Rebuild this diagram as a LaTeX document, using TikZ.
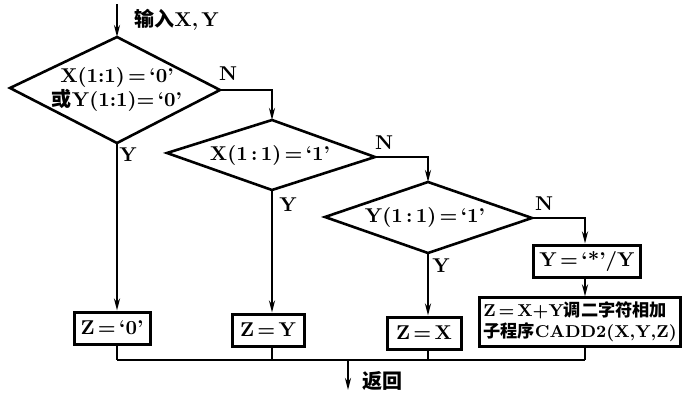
\documentclass[tikz,border=0pt]{standalone}
\usepackage{fontspec}
\newfontfamily\cjk{Noto Sans CJK SC}
\usetikzlibrary{arrows.meta}
\tikzset{
  decline/.style={draw,line width=1.3pt,line join=miter},
  dectext/.style={font=\bfseries,align=center,inner sep=1pt},
  proc/.style={draw,line width=1.5pt,inner sep=3pt,font=\bfseries,align=left},
  lab/.style={font=\bfseries,inner sep=1pt},
  flow/.style={line width=1.1pt},
  arr/.style={flow,-{Stealth[length=6pt,width=3pt]}}
}
\begin{document}
\begin{tikzpicture}[x=0.5pt,y=-0.5pt]
\useasboundingbox (0,0) rectangle (684,396);
% decision 1
\coordinate (d1w) at (10,88);
\coordinate (d1n) at (117,37);
\coordinate (d1e) at (220,90);
\coordinate (d1s) at (117,143);
\draw[decline] (d1w) -- (d1n) -- (d1e) -- (d1s) -- cycle;
\node[dectext] (d1) at (117,89) {X(1:1)\,=\,`0'\\{\cjk 或}Y(1:1)=\,`0'};
% decision 2
\coordinate (d2w) at (167,153);
\coordinate (d2n) at (272,120);
\coordinate (d2e) at (375,157);
\coordinate (d2s) at (272,190);
\draw[decline] (d2w) -- (d2n) -- (d2e) -- (d2s) -- cycle;
\node[dectext] (d2) at (270,155) {X(1\,:\,1)\,=\,`1'};
% decision 3
\coordinate (d3w) at (325,217);
\coordinate (d3n) at (428,182);
\coordinate (d3e) at (532,218);
\coordinate (d3s) at (428,253);
\draw[decline] (d3w) -- (d3n) -- (d3e) -- (d3s) -- cycle;
\node[dectext] (d3) at (425,217) {Y(1\,:\,1)\,=\,`1'};
% processes
\node[proc,minimum width=38pt,minimum height=16pt] (b1) at (112,328) {Z\,=\,`0'};
\node[proc,minimum width=36pt,minimum height=16pt] (b2) at (268,330) {Z\,=\,Y};
\node[proc,minimum width=37pt,minimum height=16pt] (b3) at (424,333) {Z\,=\,X};
\node[proc,minimum width=52pt,minimum height=15pt] (b4) at (587,261) {Y\,=\,`*'/Y};
\node[proc,inner sep=2pt,font=\bfseries\fontsize{8.6}{10.5}\selectfont] (b5) at (580,322)
  {Z\,=\,X+Y{\cjk 调二字符相加}\\{\cjk 子程序}CADD2(X,Y,Z)};
% input
\coordinate (in) at (117,4);
\node[lab,anchor=west] (inlab) at (132,20) {{\cjk 输入}X,\,Y};
\draw[arr] (in) -- (d1n);
% branches
\draw[arr] (d1e) -| (d2n);
\node[lab] (n1) at (228,74) {N};
\draw[arr] (d1s) -- (b1.north-|d1s);
\node[lab] (y1) at (128,155) {Y};
\draw[arr] (d2e) -| (d3n);
\node[lab] (n2) at (384,143) {N};
\draw[arr] (d2s) -- (b2.north-|d2s);
\node[lab] (y2) at (288,205) {Y};
\draw[arr] (d3e) -| (b4.north-|585,0);
\node[lab] (n3) at (544,204) {N};
\draw[arr] (d3s) -- (b3.north-|d3s);
\node[lab] (y3) at (441,266) {Y};
\draw[arr] (b4.south-|585,0) -- (b5.north-|585,0);
% bus
\coordinate (busL) at (117,360);
\coordinate (busR) at (585,360);
\coordinate (busM) at (348,360);
\coordinate (out) at (348,390);
\draw[flow] (busL) -- (busR);
\draw[flow] (b1.south-|busL) -- (busL);
\draw[flow] (b2.south-|d2s) -- (d2s|-busL);
\draw[flow] (b3.south-|d3s) -- (d3s|-busL);
\draw[flow] (b5.south-|busR) -- (busR);
\draw[arr] (busM) -- (out);
\node[lab,anchor=west] (ret) at (360,381) {\cjk 返回};
\end{tikzpicture}
\end{document}
